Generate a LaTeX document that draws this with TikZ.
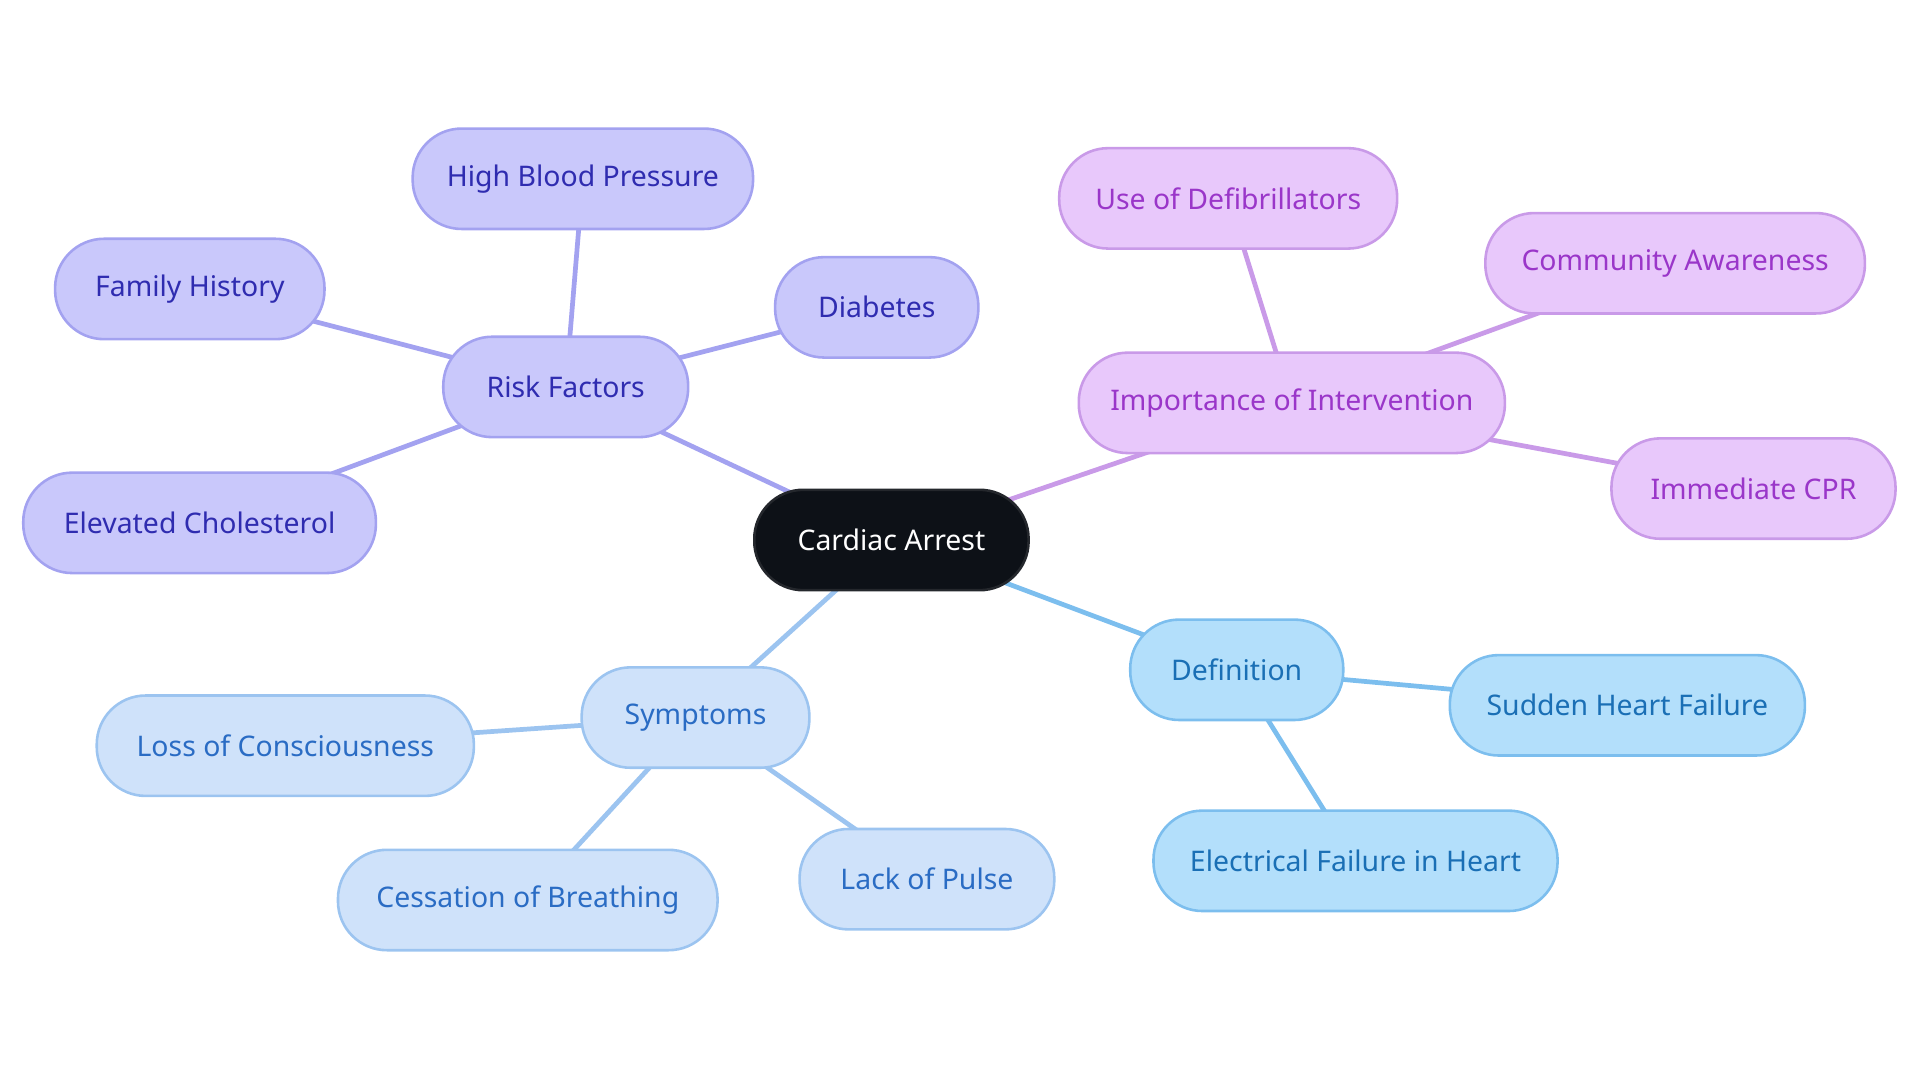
\documentclass[tikz,border=0pt]{standalone}
\usepackage{fontspec}
\setmainfont{Noto Sans}
\usetikzlibrary{backgrounds}
\definecolor{rootfill}{RGB}{13,17,23}
\definecolor{riskfill}{RGB}{201,200,251}
\definecolor{riskline}{RGB}{163,162,240}
\definecolor{riskink}{RGB}{47,44,176}
\definecolor{actfill}{RGB}{232,200,251}
\definecolor{actline}{RGB}{201,154,232}
\definecolor{actink}{RGB}{154,54,201}
\definecolor{deffill}{RGB}{179,223,251}
\definecolor{defline}{RGB}{124,190,238}
\definecolor{defink}{RGB}{26,111,181}
\definecolor{symfill}{RGB}{207,226,250}
\definecolor{symline}{RGB}{156,196,240}
\definecolor{symink}{RGB}{42,108,196}

\begin{document}
\begin{tikzpicture}[
    x=1cm, y=-1cm,
    box/.style={rounded corners=0.4cm, minimum height=0.82cm, font=\fontsize{6.6}{8}\selectfont, line width=0.6pt, inner sep=0pt},
    root/.style={box, fill=rootfill, draw=rootfill!80!gray, text=white},
    risk/.style={box, fill=riskfill, draw=riskline, text=riskink},
    act/.style={box, fill=actfill, draw=actline, text=actink},
    def/.style={box, fill=deffill, draw=defline, text=defink},
    sym/.style={box, fill=symfill, draw=symline, text=symink},
    link/.style={line width=1.1pt}
]
    \useasboundingbox (0,0) rectangle (15.68,8.84);

    % Centre
    \node[root, minimum width=2.24cm] (arrest) at (7.28,4.41) {Cardiac Arrest};

    % Risk factors
    \node[risk, minimum width=2.00cm] (risk) at (4.62,3.16) {Risk Factors};
    \node[risk, minimum width=2.78cm] (pressure) at (4.76,1.46) {High Blood Pressure};
    \node[risk, minimum width=2.20cm] (family) at (1.55,2.36) {Family History};
    \node[risk, minimum width=1.66cm] (diabetes) at (7.16,2.51) {Diabetes};
    \node[risk, minimum width=2.88cm] (cholesterol) at (1.63,4.27) {Elevated Cholesterol};

    % Intervention
    \node[act, minimum width=3.48cm] (intervention) at (10.55,3.29) {Importance of Intervention};
    \node[act, minimum width=2.76cm] (defib) at (10.03,1.62) {Use of Defibrillators};
    \node[act, minimum width=3.10cm] (community) at (13.68,2.15) {Community Awareness};
    \node[act, minimum width=2.32cm] (cpr) at (14.32,3.99) {Immediate CPR};

    % Definition
    \node[def, minimum width=1.74cm] (definition) at (10.10,5.47) {Definition};
    \node[def, minimum width=2.90cm] (sudden) at (13.29,5.76) {Sudden Heart Failure};
    \node[def, minimum width=3.30cm] (electrical) at (11.07,7.03) {Electrical Failure in Heart};

    % Symptoms
    \node[sym, minimum width=1.86cm] (symptoms) at (5.68,5.86) {Symptoms};
    \node[sym, minimum width=3.08cm] (consciousness) at (2.33,6.09) {Loss of Consciousness};
    \node[sym, minimum width=3.10cm] (breathing) at (4.31,7.35) {Cessation of Breathing};
    \node[sym, minimum width=2.08cm] (pulse) at (7.57,7.18) {Lack of Pulse};

    % Connectors
    \begin{scope}[on background layer]
        \foreach \a/\b/\col in {arrest/risk/riskline, risk/pressure/riskline,
            risk/family/riskline, risk/diabetes/riskline, risk/cholesterol/riskline,
            arrest/intervention/actline, intervention/defib/actline,
            intervention/community/actline, intervention/cpr/actline,
            arrest/definition/defline, definition/sudden/defline,
            definition/electrical/defline,
            arrest/symptoms/symline, symptoms/consciousness/symline,
            symptoms/breathing/symline, symptoms/pulse/symline}
            \draw[link, \col] (\a.center) -- (\b.center);
    \end{scope}
\end{tikzpicture}
\end{document}
